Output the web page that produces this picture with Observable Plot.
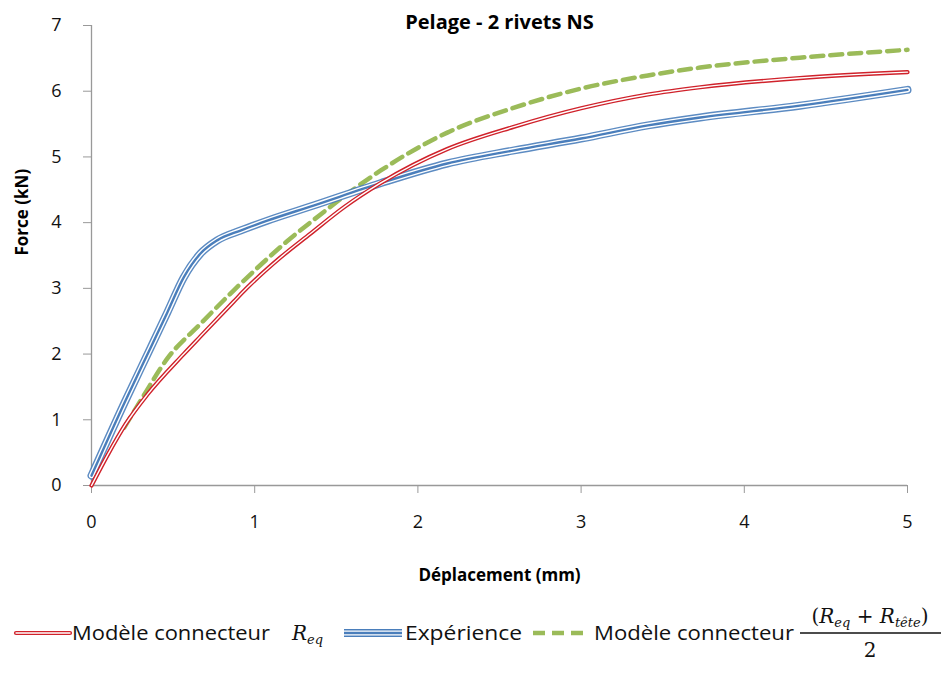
<!DOCTYPE html>
<html>
<head>
<meta charset="utf-8">
<script src="https://cdn.jsdelivr.net/npm/d3@7"></script>
<script src="https://cdn.jsdelivr.net/npm/@observablehq/plot@0.6"></script>
<style>
  body { margin: 0; background: #fff; }
  #chart svg { display: block; }
</style>
</head>
<body>
<div id="chart"></div>
<script>
// Modèle connecteur R_eq
const redX = [0, 0.1, 0.208, 0.341, 0.565, 0.668, 0.872, 0.95, 1.158, 1.34, 1.55, 1.77, 2.18, 2.59, 3.0, 3.41, 3.73, 4.34, 5.0];
const redY = [0, 0.47, 0.93, 1.38, 2.0, 2.27, 2.8, 3.0, 3.47, 3.83, 4.24, 4.6, 5.12, 5.46, 5.74, 5.95, 6.06, 6.2, 6.29];
// Expérience
const blueX = [0, 0.208, 0.363, 0.464, 0.566, 0.668, 0.77, 0.913, 1.077, 1.36, 1.77, 2.18, 2.59, 3.0, 3.41, 3.73, 4.34, 5.0];
const blueY = [0.15, 1.29, 2.1, 2.63, 3.17, 3.53, 3.73, 3.88, 4.03, 4.26, 4.6, 4.9, 5.1, 5.28, 5.48, 5.6, 5.78, 6.02];
// Modèle connecteur (R_eq + R_tête)/2
const greenX = [0.2, 0.32, 0.464, 0.668, 0.872, 1.077, 1.2, 1.36, 1.77, 2.18, 2.59, 3.0, 3.41, 3.73, 4.34, 5.0];
const greenY = [0.88, 1.37, 1.93, 2.46, 2.97, 3.45, 3.72, 4.04, 4.79, 5.37, 5.75, 6.04, 6.24, 6.36, 6.51, 6.63];

const xTicks = [0, 1, 2, 3, 4, 5];
const yTicks = [0, 1, 2, 3, 4, 5, 6, 7];

const title = "Pelage - 2 rivets NS";
const xLabel = "Déplacement (mm)";
const yLabel = "Force (kN)";

const red = redX.map((x, i) => ({x, y: redY[i]}));
const blue = blueX.map((x, i) => ({x, y: blueY[i]}));
const green = greenX.map((x, i) => ({x, y: greenY[i]}));

const RED = "#d0222b", BLUE = "#4a7ebb", GREEN = "#9bbb59";
const FONT = "'Open Sans', 'Noto Sans', sans-serif";

const curve = "monotone-x";
const plot = Plot.plot({
  width: 946,
  height: 600,
  marginLeft: 91,
  marginRight: 39,
  marginTop: 25,
  marginBottom: 115,
  style: {fontFamily: FONT, fontSize: "16px", color: "#111", background: "#fff"},
  x: {domain: [0, 5], label: null},
  y: {domain: [0, 7], label: null},
  marks: [
    Plot.ruleX([0], {stroke: "#999", strokeWidth: 1.3}),
    Plot.ruleY([0], {stroke: "#999", strokeWidth: 1.3}),
    Plot.axisX({ticks: xTicks, tickSize: 8, tickPadding: 22, stroke: "#999", fill: "#111", fontSize: 18, tickFormat: d3.format("d")}),
    Plot.axisY({ticks: yTicks, tickSize: 8, tickPadding: 22, stroke: "#999", fill: "#111", fontSize: 18, tickFormat: d3.format("d")}),
    // green dashed
    Plot.line(green, {x: "x", y: "y", curve, stroke: GREEN, strokeWidth: 4.5, strokeDasharray: "12,7"}),
    // blue compound (thin-thick-thin)
    Plot.line(blue, {x: "x", y: "y", curve, stroke: BLUE, strokeWidth: 8, strokeOpacity: 0.9}),
    Plot.line(blue, {x: "x", y: "y", curve, stroke: "#fff", strokeWidth: 5.2}),
    Plot.line(blue, {x: "x", y: "y", curve, stroke: BLUE, strokeWidth: 2.4}),
    // red double
    Plot.line(red, {x: "x", y: "y", curve, stroke: RED, strokeWidth: 4.2, strokeLinecap: "round"}),
    Plot.line(red, {x: "x", y: "y", curve, stroke: "#fff", strokeWidth: 1.4, strokeLinecap: "round"}),
    // title & axis labels
    Plot.text([title], {frameAnchor: "top", dy: -3, text: d => d, fontWeight: "bold", fontSize: 20, fill: "#000", lineAnchor: "middle"}),
    Plot.text([xLabel], {frameAnchor: "bottom", dy: 90, text: d => d, fontWeight: "bold", fontSize: 17, fill: "#000", lineAnchor: "middle"}),
    Plot.text([yLabel], {frameAnchor: "left", dx: -69, rotate: -90, text: d => d, fontWeight: "bold", fontSize: 17, fill: "#000", lineAnchor: "middle"})
  ]
});
document.getElementById("chart").appendChild(plot);

// Legend below the chart
const leg = d3.select("#chart").append("svg")
  .attr("width", 946).attr("height", 81)
  .style("display", "block")
  .style("font-family", FONT);
const cy = 33; // page y 653
// red swatch
leg.append("line").attr("x1", 16).attr("x2", 70).attr("y1", cy).attr("y2", cy)
  .attr("stroke", RED).attr("stroke-width", 4.2).attr("stroke-linecap", "round");
leg.append("line").attr("x1", 16).attr("x2", 70).attr("y1", cy).attr("y2", cy)
  .attr("stroke", "#fff").attr("stroke-width", 1.4).attr("stroke-linecap", "round");
leg.append("text").attr("x", 72).attr("y", cy + 7).attr("font-size", 20).attr("fill", "#111")
  .attr("textLength", 198).attr("lengthAdjust", "spacingAndGlyphs").text("Modèle connecteur");
const req = leg.append("text").attr("x", 292).attr("y", cy + 7).attr("font-size", 20)
  .attr("font-family", "'DejaVu Serif', 'Liberation Serif', serif").attr("font-style", "italic").attr("fill", "#111");
req.append("tspan").text("R");
req.append("tspan").attr("font-size", 13).attr("dy", 4).text("eq");
// blue swatch
leg.append("line").attr("x1", 344).attr("x2", 402).attr("y1", cy).attr("y2", cy)
  .attr("stroke", BLUE).attr("stroke-width", 8);
leg.append("line").attr("x1", 344).attr("x2", 402).attr("y1", cy).attr("y2", cy)
  .attr("stroke", "#fff").attr("stroke-width", 5.2);
leg.append("line").attr("x1", 344).attr("x2", 402).attr("y1", cy).attr("y2", cy)
  .attr("stroke", BLUE).attr("stroke-width", 2.4);
leg.append("text").attr("x", 405).attr("y", cy + 7).attr("font-size", 20).attr("fill", "#111")
  .attr("textLength", 117).attr("lengthAdjust", "spacingAndGlyphs").text("Expérience");
// green swatch
leg.append("line").attr("x1", 533).attr("x2", 586).attr("y1", cy).attr("y2", cy)
  .attr("stroke", GREEN).attr("stroke-width", 4.5).attr("stroke-dasharray", "12,7");
leg.append("text").attr("x", 594).attr("y", cy + 7).attr("font-size", 20).attr("fill", "#111")
  .attr("textLength", 200).attr("lengthAdjust", "spacingAndGlyphs").text("Modèle connecteur");
// fraction
const num = leg.append("text").attr("x", 870).attr("y", 23).attr("text-anchor", "middle").attr("font-size", 20)
  .attr("font-family", "'DejaVu Serif', 'Liberation Serif', serif").attr("fill", "#111");
num.append("tspan").text("(");
num.append("tspan").attr("font-style", "italic").text("R");
num.append("tspan").attr("font-style", "italic").attr("font-size", 13).attr("dy", 4).text("eq");
num.append("tspan").attr("dy", -4).text(" + ");
num.append("tspan").attr("font-style", "italic").text("R");
num.append("tspan").attr("font-style", "italic").attr("font-size", 13).attr("dy", 4).text("tête");
num.append("tspan").attr("dy", -4).text(")");
leg.append("line").attr("x1", 800).attr("x2", 941).attr("y1", cy).attr("y2", cy)
  .attr("stroke", "#111").attr("stroke-width", 1.3);
leg.append("text").attr("x", 870).attr("y", 57).attr("text-anchor", "middle").attr("font-size", 20)
  .attr("font-family", "'DejaVu Serif', 'Liberation Serif', serif").attr("fill", "#111").text("2");
</script>
</body>
</html>
